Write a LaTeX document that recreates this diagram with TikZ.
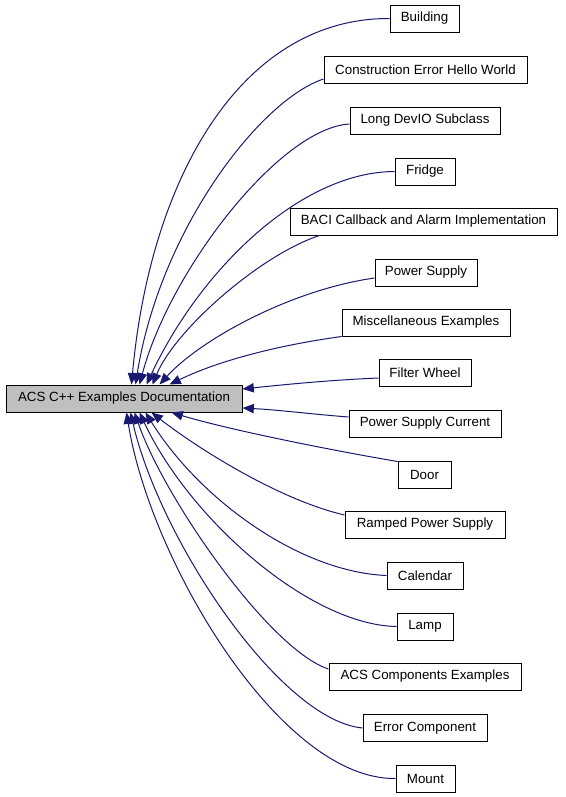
\documentclass[tikz,border=0pt]{standalone}
\usepackage{fontspec}
\setmainfont{Liberation Sans}
\usetikzlibrary{arrows.meta,calc}

\definecolor{edgeblue}{RGB}{25,25,112}
\definecolor{rootgray}{RGB}{191,191,191}

\tikzset{
  page/.style={draw=black,line width=0.75pt,minimum height=20.25pt,inner sep=2pt,
    font=\fontsize{10}{12}\selectfont},
  rootpage/.style={page,fill=rootgray},
  uses/.style={draw=edgeblue,line width=0.75pt,
    -{Triangle[length=8.5pt,width=7pt]}},
}

\begin{document}
\begin{tikzpicture}[x=0.75pt,y=-0.75pt]
  \useasboundingbox (0,0) rectangle (565,797);

  % --- pagina principale
  \node[rootpage,minimum width=177pt] (acs) at (124,398.5) {ACS C++ Examples Documentation};

  % --- sottopagine, in colonna a destra
  \node[page,minimum width=51.75pt]  (bld)   at (424.5,18.5)  {Building};
  \node[page,minimum width=152.25pt] (cons)  at (425.5,70)    {Construction Error Hello World};
  \node[page,minimum width=112.5pt]  (ldev)  at (425,120.5)   {Long DevIO Subclass};
  \node[page,minimum width=45pt]     (frg)   at (425,171.5)   {Fridge};
  \node[page,minimum width=200.25pt] (baci)  at (423.5,221.5) {BACI Callback and Alarm Implementation};
  \node[page,minimum width=76.5pt]   (ps)    at (426,272.5)   {Power Supply};
  \node[page,minimum width=126pt]    (misc)  at (426,322.5)   {Miscellaneous Examples};
  \node[page,minimum width=69pt]     (fw)    at (425,373)     {Filter Wheel};
  \node[page,minimum width=114pt]    (psc)   at (425,423.5)   {Power Supply Current};
  \node[page,minimum width=39.75pt]  (door)  at (424.5,474.5) {Door};
  \node[page,minimum width=120pt]    (rps)   at (425,524.5)   {Ramped Power Supply};
  \node[page,minimum width=57pt]     (cal)   at (425,575.5)   {Calendar};
  \node[page,minimum width=42pt]     (lamp)  at (425,626.5)   {Lamp};
  \node[page,minimum width=144pt]    (comp)  at (425,676.5)   {ACS Components Examples};
  \node[page,minimum width=93pt]     (err)   at (425,728)     {Error Component};
  \node[page,minimum width=44.25pt]  (mnt)   at (425.5,778.5) {Mount};

  % --- archi verso il bordo superiore
  \draw[uses] (bld.west) .. controls (240,18) and (150,180) .. ($(acs.north west)+(126,0)$);
  \draw[uses] ($(cons.west)+(0,9)$) .. controls (260,100) and (160,230) .. ($(acs.north west)+(130,0)$);
  \draw[uses] ($(ldev.west)+(0,3.5)$) .. controls (280,128) and (170,270) .. ($(acs.north west)+(134,0)$);
  \draw[uses] (frg.west) .. controls (300,172) and (200,270) .. ($(acs.north west)+(141,0)$);
  \draw[uses] ($(baci.south west)+(30,0)$) .. controls (260,255) and (175,330) .. ($(acs.north west)+(147,0)$);
  \draw[uses] ($(ps.west)+(0,5.5)$) .. controls (290,290) and (200,340) .. ($(acs.north west)+(154,0)$);
  \draw[uses] (misc.south west) .. controls (280,345) and (220,360) .. ($(acs.north west)+(164,0)$);

  % --- archi verso il lato destro
  \draw[uses] ($(fw.west)+(0,5)$) .. controls (330,380) and (280,385) .. ($(acs.east)+(0,-9.5)$);
  \draw[uses] ($(psc.west)+(0,-6.5)$) .. controls (310,414) and (280,410) .. ($(acs.east)+(0,9.5)$);

  % --- archi verso il bordo inferiore
  \draw[uses] ($(door.north west)+(0,1)$) .. controls (330,450) and (230,430) .. ($(acs.south west)+(166,0)$);
  \draw[uses] ($(rps.west)+(0,-9.5)$) .. controls (280,500) and (200,450) .. ($(acs.south west)+(146,0)$);
  \draw[uses] (cal.west) .. controls (300,572) and (200,500) .. ($(acs.south west)+(140,0)$);
  \draw[uses] (lamp.west) .. controls (310,625) and (190,520) .. ($(acs.south west)+(134,0)$);
  \draw[uses] ($(comp.west)+(0,-7.5)$) .. controls (270,650) and (165,500) .. ($(acs.south west)+(129,0)$);
  \draw[uses] (err.west) .. controls (280,720) and (160,540) .. ($(acs.south west)+(125,0)$);
  \draw[uses] (mnt.west) .. controls (280,780) and (150,560) .. ($(acs.south west)+(121,0)$);
\end{tikzpicture}
\end{document}
